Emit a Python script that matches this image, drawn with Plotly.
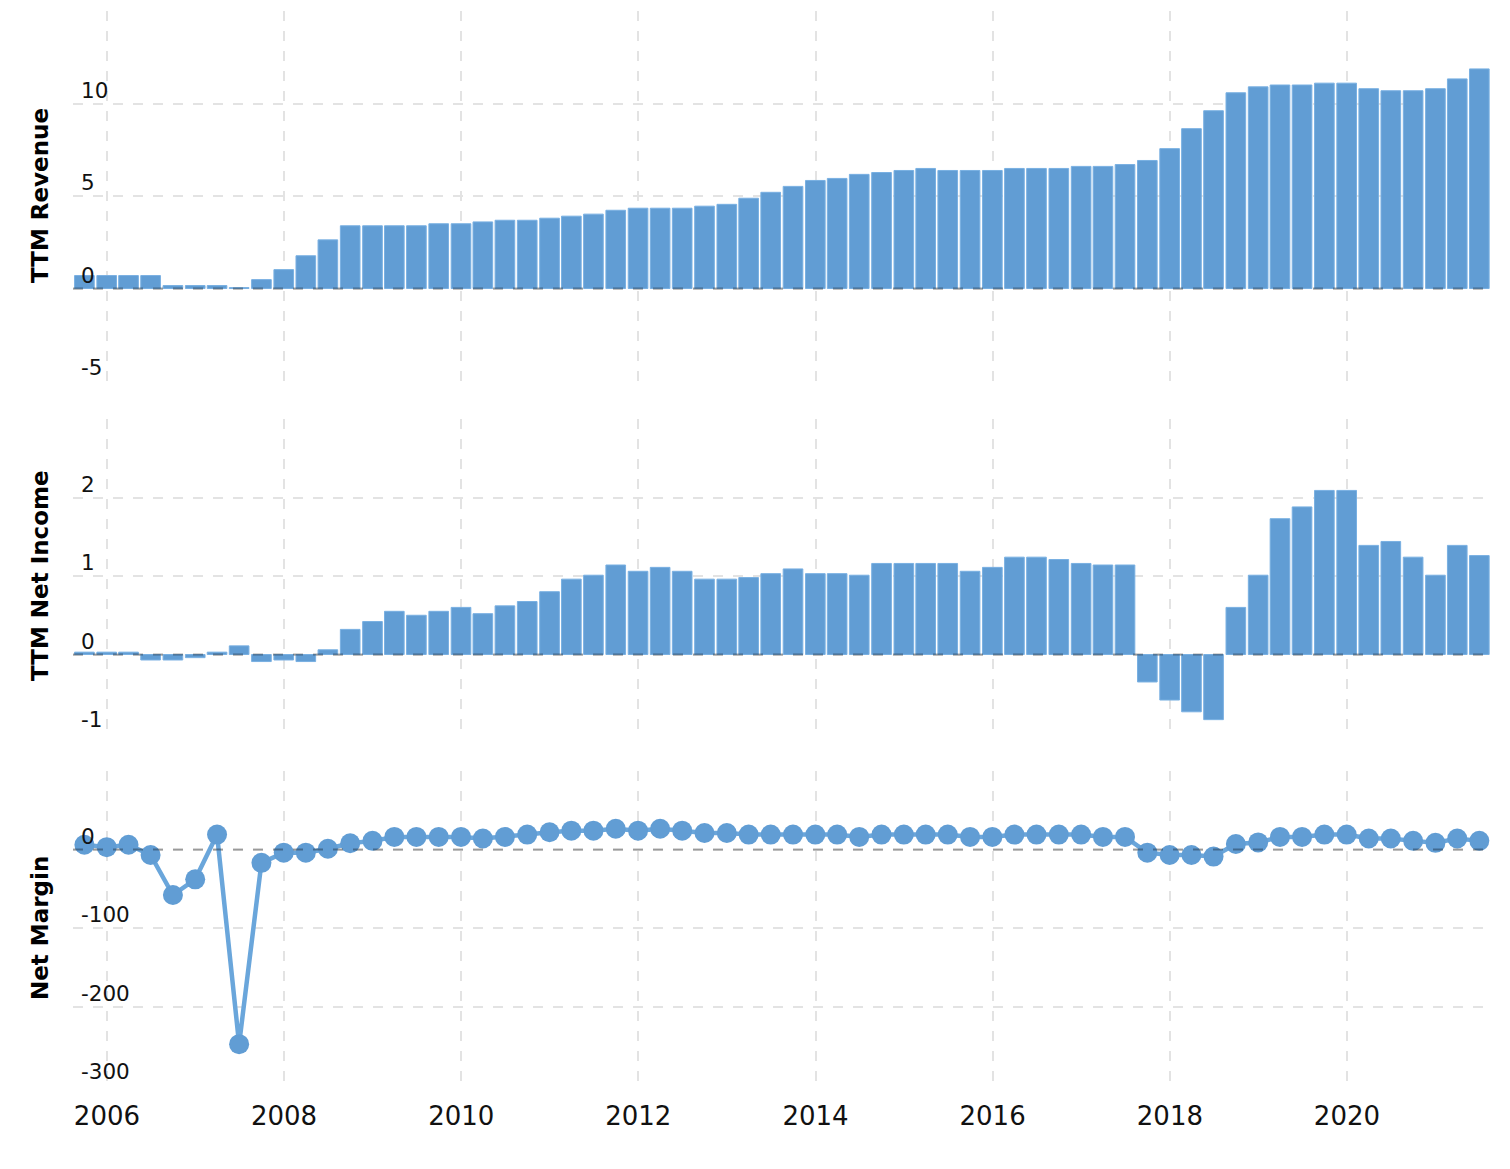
import pandas as pd
import plotly.graph_objects as go
from plotly.subplots import make_subplots

# ---- data (quarter ends, Sep 2005 .. Jun 2021) ----
quarters = pd.date_range("2005-09-30", periods=64, freq="QE")

ttm_revenue = [
    0.70, 0.70, 0.70, 0.70, 0.16, 0.16, 0.16, 0.05, 0.48, 1.02, 1.77, 2.63,
    3.39, 3.39, 3.39, 3.39, 3.50, 3.50, 3.60, 3.69, 3.69, 3.80, 3.91, 4.02,
    4.23, 4.34, 4.34, 4.34, 4.45, 4.55, 4.88, 5.20, 5.52, 5.84, 5.95, 6.17,
    6.27, 6.38, 6.49, 6.38, 6.38, 6.38, 6.49, 6.49, 6.49, 6.60, 6.60, 6.70,
    6.92, 7.56, 8.64, 9.61, 10.58, 10.90, 11.00, 11.00, 11.10, 11.10, 10.80, 10.69,
    10.69, 10.80, 11.33, 11.87,
]

ttm_net_income = [
    0.03, 0.03, 0.03, -0.07, -0.07, -0.04, 0.03, 0.11, -0.09, -0.07, -0.09, 0.06,
    0.32, 0.42, 0.55, 0.50, 0.55, 0.60, 0.52, 0.62, 0.675, 0.80, 0.96, 1.01,
    1.14, 1.06, 1.11, 1.06, 0.96, 0.96, 0.98, 1.03, 1.09, 1.03, 1.03, 1.01,
    1.16, 1.16, 1.16, 1.16, 1.06, 1.11, 1.24, 1.24, 1.21, 1.16, 1.14, 1.14,
    -0.35, -0.58, -0.73, -0.83, 0.60, 1.01, 1.73, 1.88, 2.09, 2.09, 1.39, 1.44,
    1.24, 1.01, 1.39, 1.26,
]

net_margin = [
    6, 3, 6, -7, -58, -38, 19, -248, -17, -4, -4, 1,
    8, 11, 16, 16, 16, 16, 14, 16, 19, 22, 24, 24,
    26.5, 24, 26.5, 24, 21, 21, 19, 19, 19, 19, 19, 16,
    19, 19, 19, 19, 16, 16, 19, 19, 19, 19, 16, 16,
    -4, -7, -7, -9, 7, 9, 16, 16, 19, 19, 14, 14,
    11, 8.5, 14, 11,
]

rev_ticks = [-5, 0, 5, 10, 15]
rev_text = ["-5", "0", "5", "10", ""]
ni_ticks = [-1, 0, 1, 2, 3]
ni_text = ["-1", "0", "1", "2", ""]
nm_ticks = [-300, -200, -100, 0, 100]
nm_text = ["-300", "-200", "-100", "0", ""]

# ---- styling ----
BAR = "#619dd4"
BAR_EDGE = "#79b0e2"
GRID = "#e3e3e3"
DASH = "10px,10px"
FONT = "DejaVu Sans"

fig = make_subplots(rows=3, cols=1, shared_xaxes=True)

fig.add_trace(go.Bar(x=quarters, y=ttm_revenue, marker=dict(color=BAR, line=dict(color=BAR_EDGE, width=1)),
                     name="TTM Revenue"), row=1, col=1)
fig.add_trace(go.Bar(x=quarters, y=ttm_net_income, marker=dict(color=BAR, line=dict(color=BAR_EDGE, width=1)),
                     name="TTM Net Income"), row=2, col=1)
fig.add_trace(go.Scatter(x=quarters, y=net_margin, mode="lines+markers",
                         line=dict(color="#6aa6db", width=4.5),
                         marker=dict(color=BAR, size=20),
                         name="Net Margin"), row=3, col=1)

xrange = ["2005-08-14", "2021-08-13"]
for i in (1, 2, 3):
    fig.update_xaxes(row=i, col=1, type="date", range=xrange, tick0="2006-01-01", dtick="M24",
                     tickformat="%Y", showgrid=True, gridcolor=GRID, gridwidth=2, griddash=DASH,
                     zeroline=False, showline=False, ticks="", automargin=False,
                     showticklabels=(i == 3),
                     tickfont=dict(family=FONT, size=26, color="#111"), ticklabelstandoff=13)

ydomains = {1: [0.65549, 1.0], 2: [0.32775, 0.62011], 3: [0.0, 0.29236]}
yranges = {1: [-5, 15], 2: [-1, 3], 3: [-300, 100]}
yticks = {1: (rev_ticks, rev_text), 2: (ni_ticks, ni_text), 3: (nm_ticks, nm_text)}
for i in (1, 2, 3):
    fig.update_yaxes(row=i, col=1, domain=ydomains[i], range=yranges[i],
                     tickvals=yticks[i][0], showticklabels=False, ticks="", showline=False,
                     zeroline=False, showgrid=True, gridcolor=GRID, gridwidth=2, griddash=DASH,
                     automargin=False)
    # value labels sitting just above each gridline, inside the plot
    yref = "y" if i == 1 else f"y{i}"
    for v, t in zip(*yticks[i]):
        if t:
            fig.add_annotation(text=t, xref="paper", yref=yref, x=0, y=v, xanchor="left",
                               yanchor="bottom", xshift=6, yshift=-1, showarrow=False,
                               font=dict(family=FONT, size=21.5, color="#111"))

# dashed zero lines
for xr, yr in [("x domain", "y"), ("x2 domain", "y2"), ("x3 domain", "y3")]:
    fig.add_shape(type="line", xref=xr, yref=yr, x0=0, x1=1, y0=0, y1=0, layer="above",
                  line=dict(color="rgba(0,0,0,0.32)", width=2, dash=DASH))

# axis titles
titles = [("TTM Revenue", sum(ydomains[1]) / 2), ("TTM Net Income", sum(ydomains[2]) / 2),
          ("Net Margin", sum(ydomains[3]) / 2)]
for txt, yc in titles:
    fig.add_annotation(text=txt, xref="paper", yref="paper", x=0, y=yc, xshift=-33,
                       xanchor="center", yanchor="middle", textangle=-90, showarrow=False,
                       font=dict(family=FONT, size=23, color="#000", weight="bold"))

fig.update_layout(
    width=1510, height=1169,
    margin=dict(l=73, r=20, t=11, b=84),
    paper_bgcolor="white", plot_bgcolor="white",
    showlegend=False, bargap=0.1,
    font=dict(family=FONT, color="#111"),
)

fig.write_html("out.html")
